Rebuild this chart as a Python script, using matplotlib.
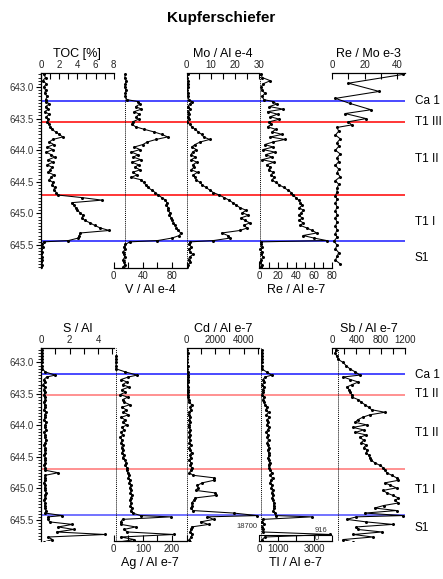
import numpy as np
import matplotlib
matplotlib.use('Agg')
import matplotlib.pyplot as plt
from matplotlib.ticker import MultipleLocator, FixedLocator, FixedFormatter, FuncFormatter
import matplotlib.transforms as mtransforms

plt.rcParams['font.family'] = ['Liberation Sans', 'DejaVu Sans']

# ---------------- data ----------------
depth = [642.80, 642.85, 642.90, 642.95, 643.00, 643.05, 643.10, 643.15, 643.20, 643.23,
         643.27, 643.31, 643.35, 643.39, 643.43, 643.47, 643.51, 643.55, 643.59, 643.63,
         643.67, 643.71, 643.75, 643.79, 643.83, 643.87, 643.91, 643.95, 643.99, 644.03,
         644.07, 644.11, 644.15, 644.19, 644.23, 644.27, 644.31, 644.35, 644.39, 644.43,
         644.47, 644.51, 644.55, 644.59, 644.63, 644.67, 644.71, 644.75, 644.79, 644.83,
         644.87, 644.91, 644.95, 644.99, 645.03, 645.07, 645.11, 645.15, 645.19, 645.23,
         645.27, 645.31, 645.35, 645.39, 645.43, 645.45, 645.49, 645.53, 645.57, 645.61,
         645.65, 645.69, 645.73, 645.77, 645.81, 645.85]

toc = [0.3, 0.5, 0.2, 0.6, 0.3, 0.5, 0.4, 0.7, 0.5,
       0.6, 0.9, 0.5, 0.8, 0.4, 0.9, 0.6, 0.8, 0.7,
       0.9, 1.0, 1.2, 1.6, 2.0, 2.4, 1.3,
       0.9, 1.4, 0.7, 1.3, 0.6, 1.1, 1.5, 0.8, 1.3, 0.7, 1.2, 1.0, 0.8, 1.4, 1.1, 0.9, 1.3, 1.2, 1.5, 1.4, 1.7,
       1.9, 4.5, 6.7, 3.4,
       3.6, 3.8, 4.0, 4.3, 4.6, 4.5, 4.8, 5.4, 5.9,
       6.5, 7.5, 4.3, 4.2, 4.1, 3.0,
       0.3,
       0.1, 0.2, 0.05, 0.1, 0.05, 0.1, 0.15, 0.05, 0.1, 0.05]

v_al = [16, 15, 17, 16, 15, 17, 16, 16, 18,
        33,
        36, 30, 38, 28, 35, 31, 34, 26,
        25, 30, 42,
        55, 66, 74, 58, 46,
        40, 28, 36, 24, 33, 27, 37, 25, 34, 29, 36, 26, 32, 24, 38, 41, 44, 47, 52, 57,
        61, 66, 71, 73, 72,
        75, 74, 77, 76, 79, 80, 82, 84,
        86, 88, 92, 90, 80, 60,
        22,
        16, 14, 15, 13, 14, 15, 13, 14, 15, 13]

mo_al = [0.5, 0.3, 0.6, 0.4, 0.5, 0.3, 0.6, 0.5, 1.0,
         2.2,
         1.2, 0.6, 1.4, 0.5, 1.0, 0.4, 0.8, 0.3,
         1.2, 2.2, 3.5, 4.8, 6.2,
         7.0, 9.5, 5.6,
         3.5, 2.1, 4.0, 2.5, 1.8, 3.6, 2.0, 4.2, 2.6, 3.0, 1.9, 4.5, 2.8, 3.5, 4.0, 5.5, 6.5, 8.0, 9.5, 11.0,
         13.5, 15.5, 17.5, 19.0, 20.5,
         22.0, 24.5, 23.0, 25.5, 22.5, 24.0, 26.0, 23.5,
         25.0, 22.0, 14.5, 17.0, 18.0, 11.0,
         1.5,
         1.0, 2.0, 0.8, 1.5, 2.6, 1.2, 0.8, 1.6, 0.5, 0.3]

re_al = [2, 3, 12, 4, 2, 3, 6, 3, 5,
         15,
         19, 11, 26, 9, 20, 12, 22, 11,
         13, 9, 18,
         14, 25, 12, 28, 15,
         6, 15, 4, 17, 7, 14, 3, 16, 8, 12, 10, 15, 13, 16, 14, 18, 22, 27, 31, 35,
         37, 40, 43, 45, 47,
         44, 48, 46, 43, 47, 44, 48, 45,
         52, 58, 63, 48, 60, 74,
         2,
         2, 3, 1, 3, 2, 4, 2, 1, 3, 2]

depth_remo = [642.80, 642.94, 643.07, 643.18, 643.26, 643.36, 643.42, 643.50, 643.55, 643.60,
              643.64, 643.70, 643.76, 643.82, 643.88, 643.94, 644.00, 644.06, 644.12, 644.18,
              644.24, 644.30, 644.36, 644.42, 644.48, 644.54, 644.60, 644.66, 644.72, 644.78,
              644.84, 644.90, 644.96, 645.02, 645.08, 645.14, 645.20, 645.26, 645.32, 645.38,
              645.44, 645.50, 645.56, 645.62, 645.68, 645.74, 645.80]
re_mo = [44, 10, 29, 2, 11, 24, 8, 21, 10, 12,
         3, 4, 2, 5, 3, 4, 2, 5, 3, 4,
         2, 4, 3, 5, 2, 4, 3, 3, 2, 3,
         2, 3, 2, 3, 2, 3, 2, 3, 2, 3,
         1, 3, 2, 4, 3, 2, 5]

s_al = [0.05, 0.1, 0.05, 0.1, 0.08, 0.05, 0.1,
        0.3, 1.0, 0.4,
        0.2, 0.3, 0.15, 0.25, 0.2, 0.3, 0.2, 0.25, 0.3, 0.2, 0.25, 0.3, 0.2, 0.35, 0.25, 0.3, 0.2, 0.35,
        0.3, 0.25, 0.35, 0.2, 0.3, 0.25, 0.35, 0.3, 0.2, 0.3, 0.25, 0.3, 0.2, 0.3, 0.25, 0.3, 0.2, 0.3,
        0.3, 1.2,
        0.3, 0.25, 0.3, 0.2, 0.3, 0.25, 0.3, 0.35, 0.25, 0.3, 0.2, 0.3, 0.25, 0.3, 0.35, 0.3,
        1.5, 0.5, 0.5, 0.6, 2.2, 1.2, 2.3, 1.1, 4.5, 0.5, 0.8, 0.2]

ag_al = [np.nan, np.nan,
         7, 8, 7, 8, 7,
         40, 80, 50,
         25, 45, 30, 52, 28, 40, 22, 48, 30, 36, 55, 28, 42, 33, 50, 26, 38, 30,
         45, 28, 35, 25, 30, 22, 28, 25, 30, 27, 32, 28, 35, 30, 38, 42, 40, 45,
         44, 48, 52, 50, 55, 53, 58, 55, 60, 57, 62, 58, 55, 60, 57, 62, 58, 65,
         92, 195, 30, 24, 25, 75, 35, 47, 207, 24, 70, 18]

cd_al = [50, 80, 40, 60, 50, 70, 60, 80, 120, 100, 70, 90, 60, 80, 100, 70, 90, 110,
         150, 200, 350, 250, 300, 200, 150, 250, 180, 220, 150, 200, 250, 180,
         220, 150, 260, 200, 300, 180, 250, 350, 220, 280, 200, 300, 250, 350, 300, 200,
         450, 1900, 1900, 1100, 750, 800, 650, 2000, 2050, 600, 500, 350, 400, 300, 450,
         3300, 4950, 1450, 1900, 980, 1550, 350, 300, 250, 400, 300, 200, 250]

tl_al = [120, 130, 120, 140, 125, 130, 120, 400, 680, 310,
         200, 280, 150, 250, 180, 220, 160, 230, 200, 260,
         300, 420, 350, 500, 380, 550, 420, 480, 400, 520, 450, 380, 480, 420, 500,
         440, 480, 520, 460, 500, 540, 480, 520, 560, 500, 540,
         600, 680, 560, 720, 640, 580, 700, 650, 720, 680, 760, 700, 740, 800, 780, 820, 760, 880,
         900, 2880, 200, 150, 250, 130, 200, 180, 3900, 300, 150, 200]

sb_al = [60, 50, 75, 100, 180, 230, 290, 380, 460, 180,
         300, 430, 330, 240, 280, 300, 320, 330, 430, 480,
         540, 600, 650, 870, 620, 500, 420, 380, 570, 340,
         520, 380, 560, 450, 520, 480, 560, 520, 580, 560,
         600, 620, 640, 700, 780, 840, 870, 900, 980, 1060,
         1090, 870, 960, 1060, 840, 900, 1000, 1090, 1040, 1090,
         850, 700, 1060, 540, 1160, 400, 240, 560, 1000, 400,
         420, 820, 350, 670, 180, 340]

bounds_top = [643.22, 643.55, 644.71, 645.44]
bounds_bot = [643.19, 643.52, 644.69, 645.42]
bound_colors = ['blue', 'red', 'red', 'blue']
units_top = ['Ca 1', 'T1 III', 'T1 II', 'T1 I', 'S1']
units_top_depth = [643.22, 643.55, 644.14, 645.13, 645.71]
units_bot = ['Ca 1', 'T1 II', 'T1 II', 'T1 I', 'S1']
units_bot_depth = [643.20, 643.50, 644.12, 645.03, 645.63]

for arr in [toc, v_al, mo_al, re_al, s_al, ag_al, cd_al, tl_al, sb_al]:
    assert len(arr) == len(depth), len(arr)
assert len(re_mo) == len(depth_remo)

# ---------------- layout ----------------
W, H = 443, 579
fig = plt.figure(figsize=(W / 100, H / 100), dpi=100)


def fx(px):
    return px / W


cols = [41, 113.8, 186.6, 259.4, 332.2, 405]


def make_group(top_px, bot_px, ylim, panels, bounds, bcolors, bcol_alpha, unit_names, unit_depths):
    rect_y = 1 - bot_px / H
    rect_h = (bot_px - top_px) / H
    bg = fig.add_axes([fx(cols[0]), rect_y, fx(cols[-1] - cols[0]), rect_h])
    bg.patch.set_visible(False)
    bg.set_xlim(0, 1)
    bg.set_ylim(*ylim)
    for sp in ['top', 'right', 'bottom']:
        bg.spines[sp].set_visible(False)
    bg.spines['left'].set_linewidth(0.9)
    bg.set_xticks([])
    bg.yaxis.set_major_locator(MultipleLocator(0.5))
    bg.yaxis.set_minor_locator(MultipleLocator(0.05))
    bg.yaxis.set_major_formatter(FuncFormatter(lambda v, p: f"{v:.1f}"))
    bg.tick_params(axis='y', which='major', length=3.5, width=0.8, labelsize=7,
                   pad=2, labelcolor='#333333')
    bg.tick_params(axis='y', which='minor', length=2, width=0.6)
    for d, c, a in zip(bounds, bcolors, bcol_alpha):
        bg.axhline(d, color=c, lw=1.1, alpha=a, zorder=1)
    trans = mtransforms.blended_transform_factory(bg.transAxes, bg.transData)
    for name, d in zip(unit_names, unit_depths):
        bg.text(1.027, d, name, transform=trans, ha='left', va='center', fontsize=8.5,
                clip_on=False)

    axes = []
    for i, p in enumerate(panels):
        ax = fig.add_axes([fx(cols[i]), rect_y, fx(cols[i + 1] - cols[i]), rect_h])
        ax.patch.set_visible(False)
        ax.set_ylim(*ylim)
        ax.set_xlim(*p['xlim'])
        ax.set_yticks([])
        side = p['side']
        for sp in ['left', 'right', 'top', 'bottom']:
            ax.spines[sp].set_visible(sp == side)
        ax.spines[side].set_linewidth(0.9)
        ax.xaxis.set_ticks_position(side)
        ax.xaxis.set_label_position(side)
        ticks = p['ticks']
        labs = [(f"{t:g}" if t in p['labels'] else '') for t in ticks]
        ax.xaxis.set_major_locator(FixedLocator(ticks))
        ax.xaxis.set_major_formatter(FixedFormatter(labs))
        ax.tick_params(axis='x', direction='in', length=4, width=0.8, labelsize=7,
                       pad=2, labelcolor='#222222')
        ax.set_xlabel(p['label'], fontsize=9, labelpad=2)
        if p.get('ref') is not None:
            ax.axvline(p['ref'], color='black', ls=(0, (1, 1)), lw=0.7)
        ax.plot(p['x'], p['y'], color='black', lw=0.75, marker='o', ms=1.2)
        axes.append(ax)
    return axes


top_panels = [
    dict(label='TOC [%]', x=toc, y=depth, xlim=(0, 8), side='top',
         ticks=[0, 1, 2, 3, 4, 5, 6, 7, 8], labels=[0, 2, 4, 6, 8], ref=None),
    dict(label='V / Al e-4', x=v_al, y=depth, xlim=(0, 100), side='bottom',
         ticks=[0, 20, 40, 60, 80, 100], labels=[0, 40, 80], ref=15),
    dict(label='Mo / Al e-4', x=mo_al, y=depth, xlim=(0, 30), side='top',
         ticks=[0, 5, 10, 15, 20, 25, 30], labels=[0, 10, 20, 30], ref=0.1),
    dict(label='Re / Al e-7', x=re_al, y=depth, xlim=(0, 80), side='bottom',
         ticks=[0, 10, 20, 30, 40, 50, 60, 70, 80], labels=[0, 20, 40, 60, 80], ref=0.5),
    dict(label='Re / Mo e-3', x=re_mo, y=depth_remo, xlim=(0, 45), side='top',
         ticks=[0, 10, 20, 30, 40], labels=[0, 20, 40], ref=None),
]

bot_panels = [
    dict(label='S / Al', x=s_al, y=depth, xlim=(0, 5.1), side='top',
         ticks=[0, 1, 2, 3, 4, 5], labels=[0, 2, 4], ref=None),
    dict(label='Ag / Al e-7', x=ag_al, y=depth, xlim=(0, 250), side='bottom',
         ticks=[0, 50, 100, 150, 200, 250], labels=[0, 100, 200], ref=8),
    dict(label='Cd / Al e-7', x=cd_al, y=depth, xlim=(0, 5100), side='top',
         ticks=[0, 1000, 2000, 3000, 4000, 5000], labels=[0, 2000, 4000], ref=10),
    dict(label='Tl / Al e-7', x=tl_al, y=depth, xlim=(0, 4000), side='bottom',
         ticks=[0, 1000, 2000, 3000, 4000], labels=[0, 1000, 3000], ref=100),
    dict(label='Sb / Al e-7', x=sb_al, y=depth, xlim=(0, 1200), side='top',
         ticks=[0, 200, 400, 600, 800, 1000, 1200], labels=[0, 400, 800, 1200], ref=100),
]

ylim_top = (643 + (268 - 87) / 63.2, 643 + (73 - 87) / 63.2)
ylim_bot = (643 + (541 - 362.5) / 63, 643 + (348 - 362.5) / 63)

make_group(73, 268, ylim_top, top_panels, bounds_top, bound_colors, [0.9, 1, 1, 0.9],
           units_top, units_top_depth)
bax = make_group(348, 541, ylim_bot, bot_panels, bounds_bot, bound_colors, [0.9, 0.55, 0.55, 0.7],
                 units_bot, units_bot_depth)

# broken-axis box on the Tl panel and its off-scale annotations
tl_ax = bax[3]
tl_ax.plot([0, 1], [6 / 193, 6 / 193], transform=tl_ax.transAxes, color='black', lw=0.8)
fig.text(fx(257), 1 - 527 / H, '18700', ha='right', va='center', fontsize=5.5, color='#333333')
fig.text(fx(321), 1 - 531 / H, '916', ha='center', va='center', fontsize=5.5, color='#333333')
fig.text(fx(317), 1 - 539 / H, '0', ha='center', va='center', fontsize=5.5, color='#333333')

fig.text(0.5, 1 - 18 / H, 'Kupferschiefer', ha='center', va='center', fontsize=11,
         fontweight='bold')

fig.savefig('out.png', dpi=100)
